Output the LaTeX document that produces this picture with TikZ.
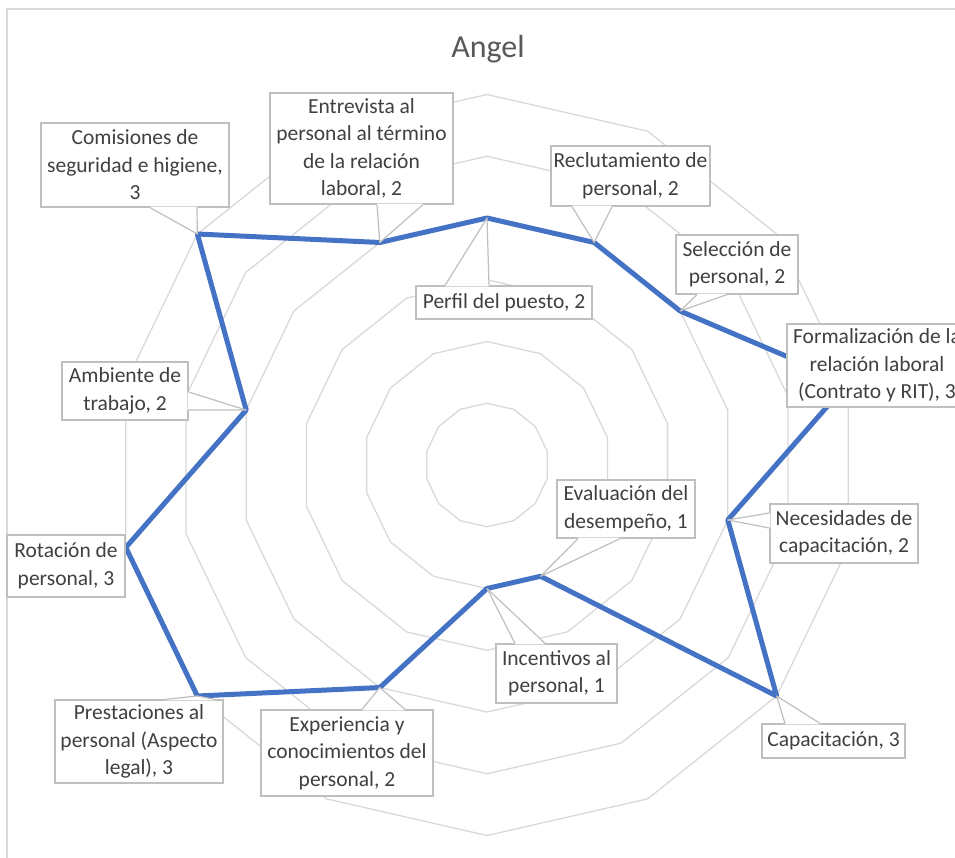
\documentclass[tikz,border=0pt]{standalone}
\usepackage{fontspec}
\setmainfont{Carlito}
\usetikzlibrary{calc}
\definecolor{gridgray}{HTML}{D9D9D9}
\definecolor{boxgray}{HTML}{BFBFBF}
\definecolor{seriesblue}{HTML}{4472C4}
\definecolor{labeltext}{HTML}{404040}
\definecolor{titletext}{HTML}{595959}

\tikzset{
  ring/.style={draw=gridgray, line width=1.3pt, line join=round},
  frameline/.style={draw=gridgray, line width=1.3pt},
  serieline/.style={draw=seriesblue, line width=5pt, line join=round},
  datalabel/.style={draw=boxgray, line width=1.2pt, fill=white, text=labeltext,
    align=center, inner sep=0pt, font=\fontsize{21.5}{27.5}\selectfont},
  leader/.style={draw=boxgray, line width=1.2pt, line join=round},
  charttitle/.style={text=titletext, inner sep=0pt, anchor=base,
    font=\fontsize{32}{38}\selectfont},
}

% callout pointer: two points on a label edge, the tip, and a small inward shift
\newcommand\wedgecallout[4]{%
  \fill[white] ($(#1)+(#4)$) -- (#1) -- (#3) -- (#2) -- ($(#2)+(#4)$) -- cycle;
  \draw[leader] (#1) -- (#3) -- (#2);
}

\begin{document}
\begin{tikzpicture}[x=1pt, y=-1pt]
  \useasboundingbox (0,0) rectangle (955,857);
  \clip (0,0) rectangle (955,857);
  \fill[white] (0,0) rectangle (955,857);

  % chart frame
  \draw[frameline] (7,9) rectangle (975,880);

  % title
  \node[charttitle] (title) at (488,57) {Angel};

  % 14-sided grid rings, step 0.5 up to 3
  \foreach \r in {1,...,6}{
    \draw[ring] plot[samples at={0,...,13}]
      ({487+\r*61.75*sin(\x*360/14)}, {465-\r*61.75*cos(\x*360/14)}) -- cycle;
  }

  % data points
  \foreach \v [count=\k from 0] in {2,2,2,3,2,3,1,1,2,3,3,2,3,2}{
    \coordinate (p\k) at ({487+\v*123.5*sin(\k*360/14)}, {465-\v*123.5*cos(\k*360/14)});
  }

  % series
  \draw[serieline] (p0) \foreach \k in {1,...,13}{ -- (p\k) } -- cycle;

  % data labels
  \node[datalabel, minimum width=176pt, minimum height=33pt] (perf) at (504,302.5)
    {Perfil del puesto, 2};
  \node[datalabel, minimum width=159pt, minimum height=60pt] (rec) at (630.5,176)
    {Reclutamiento de\\personal, 2};
  \node[datalabel, minimum width=122pt, minimum height=59pt] (sel) at (737,264.5)
    {Selección de\\personal, 2};
  \node[datalabel, minimum width=180pt, minimum height=83pt] (form) at (877,365.5)
    {Formalización de la\\relación laboral\\(Contrato y RIT), 3};
  \node[datalabel, minimum width=148pt, minimum height=59pt] (nec) at (844,533.5)
    {Necesidades de\\capacitación, 2};
  \node[datalabel, minimum width=143pt, minimum height=34pt] (cap) at (833.5,741)
    {Capacitación, 3};
  \node[datalabel, minimum width=138pt, minimum height=58pt] (eva) at (626,509)
    {Evaluación del\\desempeño, 1};
  \node[datalabel, minimum width=121pt, minimum height=59pt] (inc) at (556.5,673.5)
    {Incentivos al\\personal, 1};
  \node[datalabel, minimum width=172pt, minimum height=86pt] (exp) at (347,753)
    {Experiencia y\\conocimientos del\\personal, 2};
  \node[datalabel, minimum width=168pt, minimum height=83pt] (pre) at (139,741.5)
    {Prestaciones al\\personal (Aspecto\\legal), 3};
  \node[datalabel, minimum width=118pt, minimum height=62pt] (rot) at (66,566)
    {Rotación de\\personal, 3};
  \node[datalabel, minimum width=126pt, minimum height=58pt] (amb) at (125,391)
    {Ambiente de\\trabajo, 2};
  \node[datalabel, minimum width=188pt, minimum height=84pt] (com) at (135,165)
    {Comisiones de\\seguridad e higiene,\\3};
  \node[datalabel, minimum width=183pt, minimum height=111pt] (ent) at (361.5,148.5)
    {Entrevista al\\personal al término\\de la relación\\laboral, 2};

  % callout pointers
  \wedgecallout{perf.north -| 445,0}{perf.north -| 489,0}{p0}{0,1}
  \wedgecallout{rec.south -| 572,0}{rec.south -| 612,0}{p1}{0,-1}
  \wedgecallout{sel.south -| 697,0}{sel.south -| 727,0}{p2}{0,-1}
  \wedgecallout{nec.west |- 0,513}{nec.west |- 0,528}{p4}{1,0}
  \wedgecallout{cap.north -| 785,0}{cap.north -| 820,0}{p5}{0,1}
  \wedgecallout{eva.south -| 578,0}{eva.south -| 620,0}{p6}{0,-1}
  \wedgecallout{inc.north -| 515,0}{inc.north -| 545,0}{p7}{0,1}
  \wedgecallout{exp.north -| 362,0}{exp.north -| 405,0}{p8}{0,1}
  \wedgecallout{pre.north -| 165,0}{pre.north -| 215,0}{p9}{0,1}
  \wedgecallout{amb.east |- 0,392}{amb.east |- 0,410}{p11}{-1,0}
  \wedgecallout{com.south -| 150,0}{com.south -| 197,0}{p12}{0,-1}
  \wedgecallout{ent.south -| 377,0}{ent.south -| 423,0}{p13}{0,-1}
\end{tikzpicture}
\end{document}
